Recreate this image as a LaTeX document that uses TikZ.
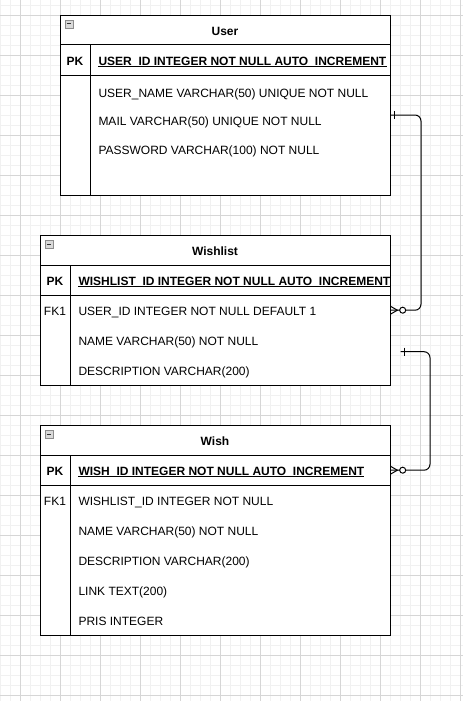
\documentclass[tikz,border=0pt]{standalone}
\usepackage{fontspec}
\setmainfont{Liberation Sans}
\usetikzlibrary{calc}
\definecolor{gridmajor}{HTML}{D6D6D6}
\definecolor{gridminor}{HTML}{F1F1F1}
\definecolor{iconfill}{HTML}{D9D9D9}
\definecolor{iconline}{HTML}{8C8C8C}
\begin{document}
\begin{tikzpicture}[x=1pt,y=-1pt,
  minorgrid/.style={draw=gridminor, line width=0.8pt},
  majorgrid/.style={draw=gridmajor, line width=0.8pt},
  tbl/.style={draw=black, line width=1pt, fill=white, inner sep=0pt, anchor=north west},
  rowbox/.style={inner sep=0pt, anchor=north west},
  sep/.style={draw=black, line width=1pt},
  ttl/.style={font=\fontsize{12pt}{14pt}\selectfont\bfseries, anchor=base, inner sep=0pt},
  keylab/.style={font=\fontsize{12pt}{14pt}\selectfont\bfseries, anchor=base, inner sep=0pt},
  fklab/.style={font=\fontsize{12pt}{14pt}\selectfont, anchor=base, inner sep=0pt},
  keyfield/.style={font=\fontsize{12pt}{14pt}\selectfont\bfseries, anchor=base west, inner sep=0pt},
  fieldlab/.style={font=\fontsize{12pt}{14pt}\selectfont, anchor=base west, inner sep=0pt},
  uline/.style={draw=black, line width=1pt},
  conn/.style={draw=black, line width=1pt},
  iconbox/.style={draw=iconline, fill=iconfill, line width=0.8pt},
  iconminus/.style={draw=black!80, line width=1pt}
]
\useasboundingbox (0,0) rectangle (463,701);
\fill[white] (0,0) rectangle (463,701);
% grid
\foreach \x in {0,10,...,460} \draw[minorgrid] (\x,0) -- (\x,701);
\foreach \y in {5,15,...,695} \draw[minorgrid] (0,\y) -- (463,\y);
\foreach \x in {20,60,...,460} \draw[majorgrid] (\x,0) -- (\x,701);
\foreach \y in {15,55,...,695} \draw[majorgrid] (0,\y) -- (463,\y);

% ---------------- User ----------------
\node[tbl, minimum width=330pt, minimum height=180pt] (user) at (60,15) {};
\node[rowbox, minimum width=330pt, minimum height=30pt] (userR0) at (60,45) {};
\node[rowbox, minimum width=330pt, minimum height=120pt] (userBody) at (60,75) {};
\draw[sep] (userR0.north west) -- (userR0.north east);
\draw[sep] (userR0.south west) -- (userR0.south east);
\draw[sep] ($(userR0.north west)+(30,0)$) -- ($(user.south west)+(30,0)$);
\draw[iconbox] (65,20) rectangle (73,28);
\draw[iconminus] (66.8,24) -- (71.2,24);
\node[ttl] (userT) at (225,35.7) {User};
\node[keylab] (userPK) at (75,65.3) {PK};
\node[keyfield] (userK) at (98.3,65.3) {USER\_ID INTEGER NOT NULL AUTO\_INCREMENT};
\draw[uline] ([yshift=-1.5pt]userK.base west) -- ([yshift=-1.5pt]userK.base east);
\node[fieldlab] (userF1) at (98.3,97.3) {USER\_NAME VARCHAR(50) UNIQUE NOT NULL};
\node[fieldlab] (userF2) at (98.3,125.7) {MAIL VARCHAR(50) UNIQUE NOT NULL};
\node[fieldlab] (userF3) at (98.3,154) {PASSWORD VARCHAR(100) NOT NULL};

% ---------------- Wishlist ----------------
\node[tbl, minimum width=350pt, minimum height=150pt] (wishlist) at (40,235) {};
\node[rowbox, minimum width=350pt, minimum height=30pt] (wlR0) at (40,265) {};
\node[rowbox, minimum width=350pt, minimum height=30pt] (wlR1) at (40,295) {};
\node[rowbox, minimum width=350pt, minimum height=30pt] (wlR2) at (40,325) {};
\node[rowbox, minimum width=350pt, minimum height=30pt] (wlR3) at (40,355) {};
\draw[sep] (wlR0.north west) -- (wlR0.north east);
\draw[sep] (wlR0.south west) -- (wlR0.south east);
\draw[sep] ($(wlR0.north west)+(30,0)$) -- ($(wishlist.south west)+(30,0)$);
\draw[iconbox] (45,240) rectangle (53,248);
\draw[iconminus] (46.8,244) -- (51.2,244);
\node[ttl] (wlT) at (215,255.6) {Wishlist};
\node[keylab] (wlPK) at (55,285.3) {PK};
\node[keyfield] (wlK) at (78.3,285.3) {WISHLIST\_ID INTEGER NOT NULL AUTO\_INCREMENT};
\draw[uline] ([yshift=-1.5pt]wlK.base west) -- ([yshift=-1.5pt]wlK.base east);
\node[fklab] (wlFK) at (55,315.3) {FK1};
\node[fieldlab] (wlF1) at (78.3,315.3) {USER\_ID INTEGER NOT NULL DEFAULT 1};
\node[fieldlab] (wlF2) at (78.3,345.3) {NAME VARCHAR(50) NOT NULL};
\node[fieldlab] (wlF3) at (78.3,375.3) {DESCRIPTION VARCHAR(200)};

% ---------------- Wish ----------------
\node[tbl, minimum width=350pt, minimum height=210pt] (wish) at (40,425) {};
\node[rowbox, minimum width=350pt, minimum height=30pt] (wR0) at (40,455) {};
\node[rowbox, minimum width=350pt, minimum height=30pt] (wR1) at (40,485) {};
\draw[sep] (wR0.north west) -- (wR0.north east);
\draw[sep] (wR0.south west) -- (wR0.south east);
\draw[sep] ($(wR0.north west)+(30,0)$) -- ($(wish.south west)+(30,0)$);
\draw[iconbox] (45,430) rectangle (53,438);
\draw[iconminus] (46.8,434) -- (51.2,434);
\node[ttl] (wT) at (215,445.7) {Wish};
\node[keylab] (wPK) at (55,475.3) {PK};
\node[keyfield] (wK) at (78.3,475.3) {WISH\_ID INTEGER NOT NULL AUTO\_INCREMENT};
\draw[uline] ([yshift=-1.5pt]wK.base west) -- ([yshift=-1.5pt]wK.base east);
\node[fklab] (wFK) at (55,505.3) {FK1};
\node[fieldlab] (wF1) at (78.3,505.3) {WISHLIST\_ID INTEGER NOT NULL};
\node[fieldlab] (wF2) at (78.3,535.3) {NAME VARCHAR(50) NOT NULL};
\node[fieldlab] (wF3) at (78.3,565.3) {DESCRIPTION VARCHAR(200)};
\node[fieldlab] (wF4) at (78.3,595.3) {LINK TEXT(200)};
\node[fieldlab] (wF5) at (78.3,625.3) {PRIS INTEGER};

% ---------------- Connectors ----------------
\coordinate (c1s) at (390,115);
\coordinate (c2s) at (400.7,351.7);
% User -> Wishlist
\draw[conn, rounded corners=6pt] (c1s) -- ++(31,0) |- (wlR1.east);
\draw[conn] ($(c1s)+(4,-4)$) -- ($(c1s)+(4,4)$);
\draw[conn] ($(wlR1.east)+(0,-4)$) -- ($(wlR1.east)+(7,0)$) -- ($(wlR1.east)+(0,4)$);
\draw[conn, fill=white] ($(wlR1.east)+(12.3,0)$) circle (3);
% Wishlist -> Wish
\draw[conn, rounded corners=6pt] (c2s) -- ++(29.3,0) |- (wR0.east);
\draw[conn] ($(c2s)+(3.5,-4)$) -- ($(c2s)+(3.5,4)$);
\draw[conn] ($(wR0.east)+(0,-4)$) -- ($(wR0.east)+(7,0)$) -- ($(wR0.east)+(0,4)$);
\draw[conn, fill=white] ($(wR0.east)+(12.3,0)$) circle (3);
\end{tikzpicture}
\end{document}
